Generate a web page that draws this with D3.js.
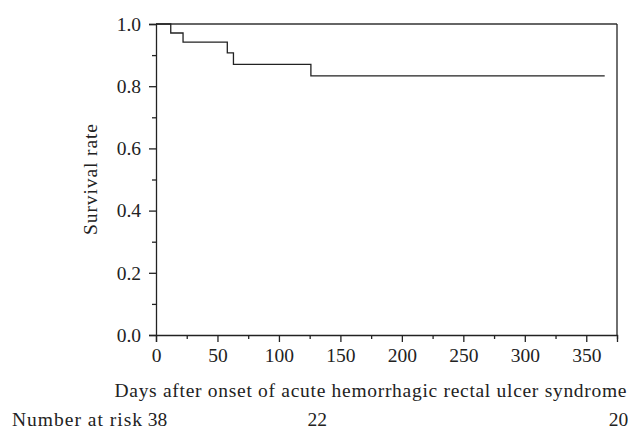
<!DOCTYPE html>
<html>
<head>
<meta charset="utf-8">
<script src="https://cdn.jsdelivr.net/npm/d3@7"></script>
<style>
  html, body { margin: 0; padding: 0; background: #fff; }
  svg { display: block; }
  text { font-family: "Liberation Serif", "DejaVu Serif", serif; fill: #222; }
</style>
</head>
<body>
<svg id="chart" width="628" height="432"></svg>
<script>
// Data
const stepDays = [0, 12, 22, 58, 63, 126];
const stepSurvival = [1.0, 0.971, 0.942, 0.907, 0.870, 0.833];
const endDay = 365;
const xTicks = [0, 50, 100, 150, 200, 250, 300, 350];
const xMinorTicks = [25, 75, 125, 175, 225, 275, 325, 375];
const yTicks = [0.0, 0.2, 0.4, 0.6, 0.8, 1.0];
const yMinorTicks = [0.1, 0.3, 0.5, 0.7, 0.9];
const riskDays = [0, 130, 375];
const riskCounts = [38, 22, 20];
const xTitle = "Days after onset of acute hemorrhagic rectal ulcer syndrome";
const yTitle = "Survival rate";
const riskLabel = "Number at risk";

const svg = d3.select("#chart");
const mLeft = 156, mRight = 617, mTop = 24, mBottom = 335;
const x = d3.scaleLinear().domain([0, 375]).range([mLeft, mRight]);
const y = d3.scaleLinear().domain([0, 1]).range([mBottom, mTop]);

const fs = 19.5;

// frame (top & right)
svg.append("line").attr("x1", mLeft).attr("x2", mRight).attr("y1", mTop).attr("y2", mTop)
  .attr("stroke", "#333").attr("stroke-width", 1.3);
svg.append("line").attr("x1", mRight).attr("x2", mRight).attr("y1", mTop).attr("y2", mBottom)
  .attr("stroke", "#222").attr("stroke-width", 1.3);

// x axis
const xAxis = svg.append("g").attr("transform", `translate(0,${mBottom})`)
  .call(d3.axisBottom(x).tickValues(xTicks).tickFormat(d3.format("d")).tickSizeOuter(0).tickSize(7).tickPadding(6));
svg.append("g").attr("transform", `translate(0,${mBottom})`)
  .call(d3.axisBottom(x).tickValues(xMinorTicks).tickFormat("").tickSizeOuter(0).tickSize(4))
  .select(".domain").remove();

// y axis
const yAxis = svg.append("g").attr("transform", `translate(${mLeft},0)`)
  .call(d3.axisLeft(y).tickValues(yTicks).tickFormat(d3.format(".1f")).tickSizeOuter(0).tickSize(7).tickPadding(8));
svg.append("g").attr("transform", `translate(${mLeft},0)`)
  .call(d3.axisLeft(y).tickValues(yMinorTicks).tickFormat("").tickSizeOuter(0).tickSize(4))
  .select(".domain").remove();

svg.selectAll(".tick text").attr("font-size", fs).attr("fill", "#222");
svg.selectAll(".domain, .tick line").attr("stroke", "#222").attr("stroke-width", 1.3);
xAxis.selectAll(".tick text").attr("dy", "0.71em");

// survival step curve
const pts = stepDays.map((d, i) => [d, stepSurvival[i]]);
pts.push([endDay, stepSurvival[stepSurvival.length - 1]]);
const line = d3.line().x(d => x(d[0])).y(d => y(d[1])).curve(d3.curveStepAfter);
svg.append("path").datum(pts).attr("d", line)
  .attr("fill", "none").attr("stroke", "#222").attr("stroke-width", 1.3);

// axis titles
svg.append("text").attr("x", 370.5).attr("y", 397)
  .attr("text-anchor", "middle").attr("font-size", fs)
  .attr("textLength", 512).attr("lengthAdjust", "spacing")
  .text(xTitle);

svg.append("text")
  .attr("transform", `translate(97,${(mTop + mBottom) / 2}) rotate(-90)`)
  .attr("text-anchor", "middle").attr("font-size", fs)
  .attr("textLength", 111).attr("lengthAdjust", "spacing")
  .text(yTitle);

// number at risk row
svg.append("text").attr("x", 142).attr("y", 426)
  .attr("text-anchor", "end").attr("font-size", fs)
  .attr("textLength", 130).attr("lengthAdjust", "spacing")
  .text(riskLabel);
svg.selectAll(".risk").data(riskDays).enter().append("text")
  .attr("class", "risk")
  .attr("x", d => x(d) + 1.5).attr("y", 426)
  .attr("text-anchor", "middle").attr("font-size", fs)
  .text((d, i) => riskCounts[i]);
</script>
</body>
</html>
